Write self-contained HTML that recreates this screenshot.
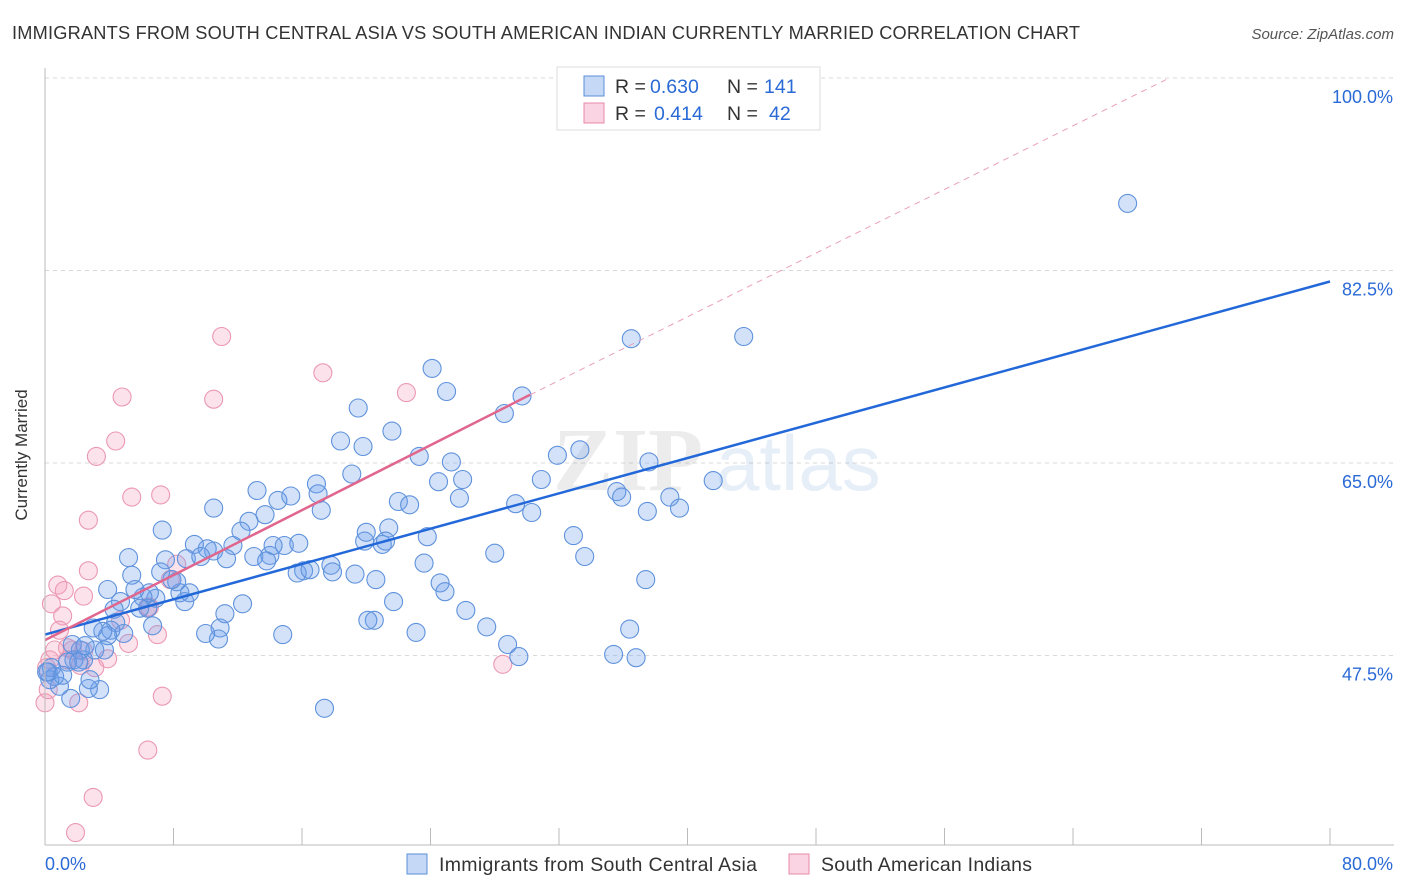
<!DOCTYPE html>
<html><head><meta charset="utf-8"><style>
body{margin:0;background:#fff;font-family:"Liberation Sans",sans-serif}
svg{display:block}
</style></head><body>
<svg id="chart" width="1406" height="892" viewBox="0 0 1406 892">
<text x="12" y="39" font-size="18.2" fill="#333" textLength="1068">IMMIGRANTS FROM SOUTH CENTRAL ASIA VS SOUTH AMERICAN INDIAN CURRENTLY MARRIED CORRELATION CHART</text>
<text x="1394" y="39" font-size="15" fill="#555" text-anchor="end" font-style="italic">Source: ZipAtlas.com</text>
<g id="grid"></g>
<g opacity="0.13"><text x="553" y="490" font-size="90" fill="#777" font-family="Liberation Serif,serif" font-weight="bold">ZIP</text><text x="716" y="490" font-size="78" fill="#4a7fd0">atlas</text></g>
<g id="pts"></g>
<g id="lines"></g>
<g id="axes"></g>
<text x="27" y="455" font-size="17" fill="#333" text-anchor="middle" transform="rotate(-90 27 455)">Currently Married</text>
<g>
<rect x="557" y="67" width="263" height="63" fill="#fff" stroke="#ddd"/>
<rect x="584" y="76" width="20" height="20" fill="rgba(110,160,235,0.4)" stroke="#5b8fd9"/>
<text y="93" font-size="19.5" fill="#333"><tspan x="615">R =</tspan><tspan x="650" fill="#2a6ad6">0.630</tspan><tspan x="727">N =</tspan><tspan x="764" fill="#2a6ad6">141</tspan></text>
<rect x="584" y="103" width="20" height="20" fill="rgba(245,160,190,0.45)" stroke="#e88aa8"/>
<text y="120" font-size="19.5" fill="#333"><tspan x="615">R =</tspan><tspan x="654" fill="#2a6ad6">0.414</tspan><tspan x="727">N =</tspan><tspan x="769" fill="#2a6ad6">42</tspan></text>
</g>
<g>
<rect x="407" y="854" width="20" height="20" fill="rgba(110,160,235,0.4)" stroke="#5b8fd9"/>
<text x="439" y="871" font-size="19.5" fill="#333" textLength="318">Immigrants from South Central Asia</text>
<rect x="789" y="854" width="20" height="20" fill="rgba(245,160,190,0.45)" stroke="#e88aa8"/>
<text x="821" y="871" font-size="19.5" fill="#333" textLength="211">South American Indians</text>
</g>
</svg>
<script>
const blueX=[67.4,36.5,43.5,24.1,25.0,29.7,28.6,19.5,21.6,18.4,19.8,23.3,25.3,19.1,24.5,26.0,22.0,22.7,25.8,16.9,17.0,17.2,15.3,14.5,13.2,13.7,12.7,10.5,12.2,11.7,10.5,10.1,9.3,7.3,7.5,8.8,9.7,11.3,13.0,14.0,14.9,15.8,14.2,13.8,16.1,15.7,16.5,17.8,17.9,19.3,20.6,19.9,20.0,21.0,21.4,21.2,23.8,23.6,24.6,24.9,26.2,27.5,28.0,28.8,29.5,29.3,30.3,30.9,31.9,33.3,32.9,33.6,35.6,35.9,37.5,37.6,38.9,39.5,41.6,37.4,36.4,35.4,36.8,21.7,23.1,20.5,20.1,17.4,14.8,12.3,11.2,10.9,10.8,10.0,8.7,8.4,9.0,8.2,7.9,7.2,6.9,6.5,6.4,6.1,5.9,5.2,5.4,5.6,4.7,4.3,3.9,4.4,4.9,4.1,3.9,3.6,3.0,3.1,3.4,2.7,2.4,2.2,1.7,1.8,1.4,1.6,0.9,0.6,0.4,0.3,0.2,0.1,6.7,3.7,2.8,1.1,2.1,2.5];
const blueY=[88.6,76.3,76.5,73.6,71.5,71.1,69.5,70.0,67.9,67.0,66.5,65.6,65.1,64.0,63.3,63.5,61.5,61.2,61.8,63.1,62.2,60.7,62.0,61.6,62.5,60.3,59.7,60.9,58.8,57.5,57.0,57.2,57.6,58.9,56.2,56.3,56.5,56.3,56.5,56.6,57.5,57.7,57.5,56.1,55.2,55.0,55.3,55.7,55.1,54.9,54.4,57.9,58.7,57.6,59.1,57.9,58.3,55.9,54.1,53.3,51.6,50.1,56.8,48.5,47.4,61.3,60.5,63.5,65.7,66.2,58.4,56.5,62.4,61.9,60.6,65.1,61.9,60.9,63.4,54.4,49.9,47.6,47.3,52.4,49.6,50.7,50.7,42.7,49.4,52.2,51.3,50.0,49.0,49.5,52.4,53.2,53.2,54.2,54.4,55.1,52.7,53.2,51.8,52.8,51.8,56.4,54.8,53.5,52.4,51.7,53.5,50.5,49.5,49.8,49.3,49.7,50.0,48.0,44.4,44.5,47.1,48.0,48.5,47.1,46.9,43.6,44.7,45.6,46.4,45.3,46.0,46.0,50.2,48.0,45.3,45.7,46.9,48.4];
const pinkX=[11.0,17.3,22.5,4.8,10.5,4.4,3.2,7.2,5.4,2.7,2.7,0.8,1.2,2.4,0.4,1.1,0.9,8.2,7.8,6.5,6.4,7.0,5.2,3.9,3.1,1.7,1.4,2.4,2.2,0.3,0.1,0.2,0.0,2.1,7.3,6.4,3.0,1.9,28.5,4.7,1.4,0.6];
const pinkY=[76.5,73.2,71.4,71.0,70.8,67.0,65.6,62.1,61.9,59.8,55.2,53.9,53.4,52.9,52.2,51.1,49.8,55.8,54.4,51.9,51.9,49.4,48.6,47.2,46.4,48.0,47.1,47.9,46.6,47.1,46.4,44.4,43.2,43.2,43.8,38.9,34.6,31.4,46.7,50.7,48.2,48.0];
const blueTrend=[[0,49.4],[80,81.5]];
const pinkTrend=[[0,48.9],[30.2,71.2]];
const pinkDash=[[30.2,71.2],[70.0,100]];
const yTicks=[100,82.5,65,47.5];
const yTickLabels=["100.0%","82.5%","65.0%","47.5%"];
const xTicks=[0,8,16,24,32,40,48,56,64,72,80];

const NS="http://www.w3.org/2000/svg";
const X=v=>45+v/80*1285;
const Y=v=>78+(100-v)*11;
function mk(tag,attrs,parent){const e=document.createElementNS(NS,tag);for(const k in attrs)e.setAttribute(k,attrs[k]);parent.appendChild(e);return e;}
const grid=document.getElementById('grid'),axes=document.getElementById('axes'),pts=document.getElementById('pts'),lines=document.getElementById('lines');
yTicks.forEach((t,i)=>{
 const l=mk('line',{x1:45,x2:1394,y1:Y(t),y2:Y(t),stroke:'#d8d8d8','stroke-dasharray':'4,4'},grid);
 
 
 const tx=mk('text',{x:1393,y:Y(t)+25,'font-size':18,fill:'#2a6ad6','text-anchor':'end'},axes);
 tx.textContent=yTickLabels[i];
 
 
});
const ya=mk('line',{x1:45,x2:45,y1:68,y2:845,stroke:'#bbb'},axes);


const xa=mk('line',{x1:45,x2:1394,y1:845,y2:845,stroke:'#bbb'},axes);


xTicks.forEach(t=>{
 const l=mk('line',{x1:X(t),x2:X(t),y1:828,y2:845,stroke:'#bbb'},axes);
 
 
});
[[0,'0.0%','start',45],[80,'80.0%','end',1393]].forEach(a=>{
 const tx=mk('text',{x:a[3],y:870,'font-size':18,fill:'#2a6ad6','text-anchor':a[2]},axes);
 tx.textContent=a[1];
 
 
});
pinkX.forEach((v,i)=>{
 const c=mk('circle',{cx:X(v),cy:Y(pinkY[i]),r:9,fill:'rgba(245,160,190,0.3)',stroke:'#eb98b2','stroke-width':1.1},pts);
 
 
});
blueX.forEach((v,i)=>{
 const c=mk('circle',{cx:X(v),cy:Y(blueY[i]),r:9,fill:'rgba(110,160,235,0.3)',stroke:'#5f92dc','stroke-width':1.1},pts);
 
 
});
const bl=mk('line',{x1:X(blueTrend[0][0]),y1:Y(blueTrend[0][1]),x2:X(blueTrend[1][0]),y2:Y(blueTrend[1][1]),stroke:'#2368d8','stroke-width':2.5},lines);


const pl=mk('line',{x1:X(pinkTrend[0][0]),y1:Y(pinkTrend[0][1]),x2:X(pinkTrend[1][0]),y2:Y(pinkTrend[1][1]),stroke:'#e0668e','stroke-width':2.5},lines);


const pd=mk('line',{x1:X(pinkDash[0][0]),y1:Y(pinkDash[0][1]),x2:X(pinkDash[1][0]),y2:Y(pinkDash[1][1]),stroke:'#eaa0b8','stroke-width':1,'stroke-dasharray':'6,5'},lines);


</script>
</body></html>
